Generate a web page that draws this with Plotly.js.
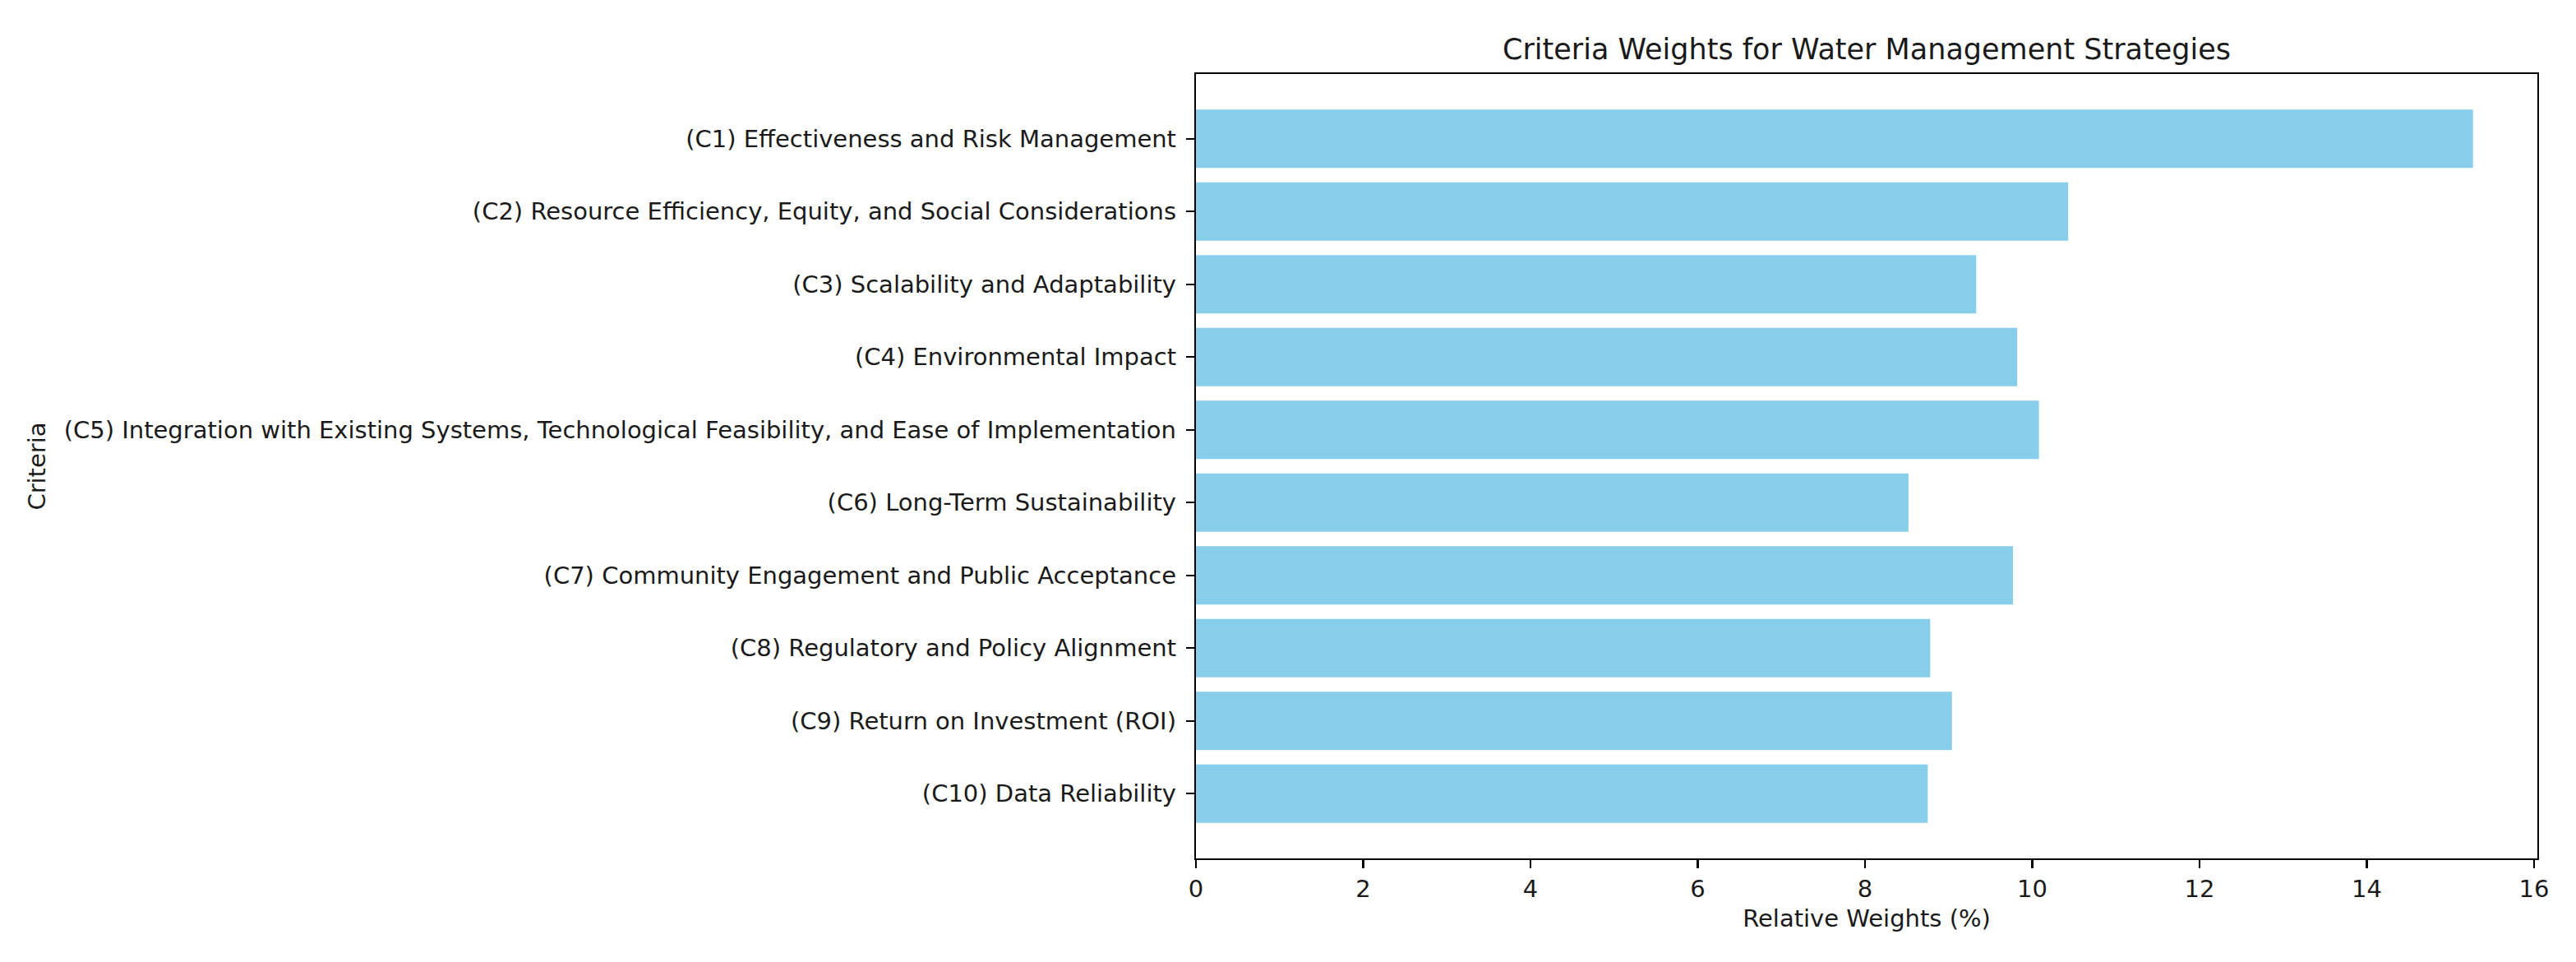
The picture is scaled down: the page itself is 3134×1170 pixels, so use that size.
<!DOCTYPE html>
<html>
<head>
<meta charset="utf-8">
<script src="https://cdn.plot.ly/plotly-3.0.1.min.js"></script>
<style>html,body{margin:0;padding:0;background:#fff;}#chart{width:3134px;height:1170px;}</style>
</head>
<body>
<div id="chart"></div>
<script>
const categories = [
  "(C1) Effectiveness and Risk Management",
  "(C2) Resource Efficiency, Equity, and Social Considerations",
  "(C3) Scalability and Adaptability",
  "(C4) Environmental Impact",
  "(C5) Integration with Existing Systems, Technological Feasibility, and Ease of Implementation",
  "(C6) Long-Term Sustainability",
  "(C7) Community Engagement and Public Acceptance",
  "(C8) Regulatory and Policy Alignment",
  "(C9) Return on Investment (ROI)",
  "(C10) Data Reliability"
];
const weights = [15.27, 10.43, 9.33, 9.82, 10.08, 8.52, 9.77, 8.78, 9.04, 8.75];
const xTicks = [0, 2, 4, 6, 8, 10, 12, 14, 16];

const font = {family: "DejaVu Sans", size: 29, color: "#1a1a1a"};

Plotly.newPlot("chart", [{
  type: "bar",
  orientation: "h",
  x: weights,
  y: categories,
  width: 0.8,
  marker: {color: "#87CEEB", line: {width: 0}},
  hoverinfo: "x+y"
}], {
  width: 3134,
  height: 1170,
  paper_bgcolor: "#fff",
  plot_bgcolor: "#fff",
  font: font,
  showlegend: false,
  margin: {l: 1455, r: 47, t: 90, b: 126, pad: 0},
  title: {
    text: "Criteria Weights for Water Management Strategies",
    font: {family: "DejaVu Sans", size: 35, color: "#1a1a1a"},
    x: 0.5, xref: "paper", xanchor: "center",
    y: 1 - 60/1170, yref: "container", yanchor: "middle"
  },
  xaxis: {
    range: [0, 16.04],
    tickvals: xTicks,
    ticktext: xTicks.map(String),
    ticks: "outside", ticklen: 10, tickwidth: 2.2, tickcolor: "#000",
    showline: true, linecolor: "#000", linewidth: 2.2, mirror: true,
    showgrid: false, zeroline: false,
    tickfont: font,
    automargin: false,
    title: {text: "Relative Weights (%)", font: font, standoff: 10}
  },
  yaxis: {
    type: "category",
    categoryorder: "array",
    categoryarray: categories,
    range: [9.89, -0.89],
    ticks: "outside", ticklen: 10, tickwidth: 2.2, tickcolor: "#000",
    ticklabelstandoff: 6,
    showline: true, linecolor: "#000", linewidth: 2.2, mirror: true,
    showgrid: false, zeroline: false,
    tickfont: font,
    automargin: false,
    title: {text: "Criteria", font: font, standoff: 14}
  }
}, {staticPlot: true});
</script>
</body>
</html>
